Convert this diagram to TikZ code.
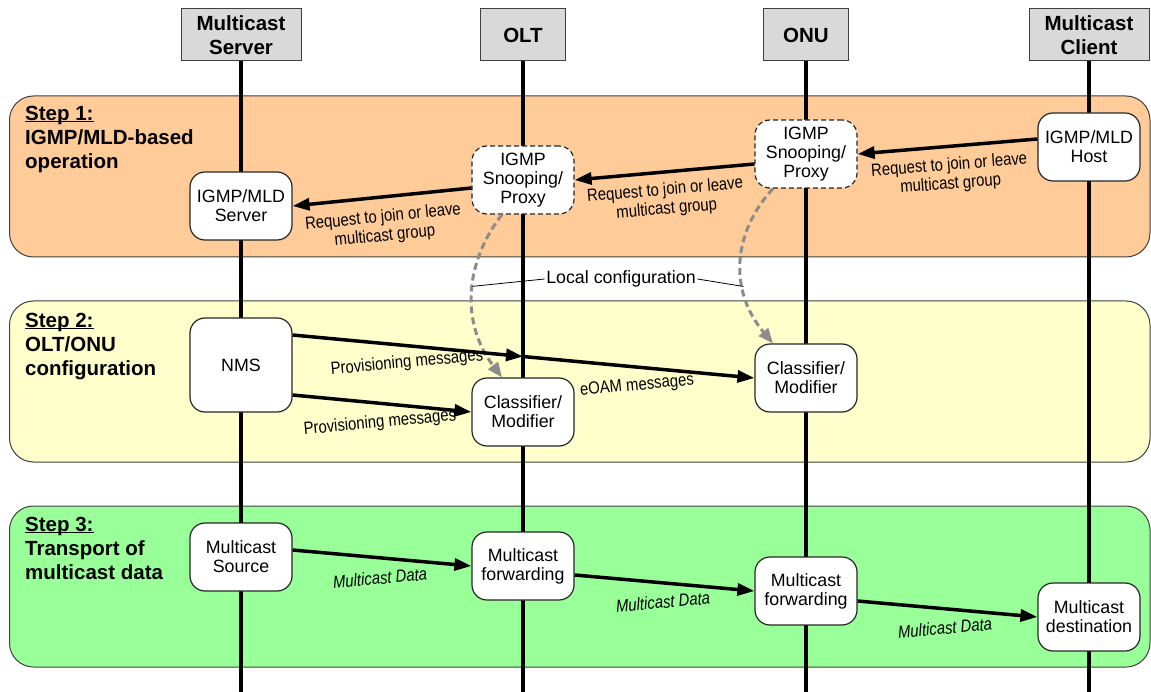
\documentclass[tikz,border=0pt]{standalone}
\usepackage{fontspec}
\setmainfont{Liberation Sans}
\newfontfamily\narrowfont[FakeStretch=0.85]{Liberation Sans}
\usetikzlibrary{arrows.meta}
\definecolor{bandorange}{HTML}{FFCC99}
\definecolor{bandyellow}{HTML}{FFFFCC}
\definecolor{bandgreen}{HTML}{99FF99}
\definecolor{hdrgray}{HTML}{D9D9D9}
\definecolor{edgegray}{HTML}{404040}
\definecolor{cfggray}{HTML}{8C8C8C}
\newcommand\stepul[1]{\setbox0\hbox{#1}\rlap{\rule[-1.8pt]{\wd0}{1.5pt}}#1}
\begin{document}
\begin{tikzpicture}[x=1pt,y=-1pt,
  hdr/.style={draw=edgegray, line width=1pt, fill=hdrgray, minimum height=52pt, inner sep=2pt, align=center, font=\fontsize{20.5}{24}\selectfont\bfseries},
  band/.style={draw=edgegray, line width=1pt, rounded corners=24pt},
  lifeline/.style={line width=4pt, black},
  box/.style={draw=black!85, line width=1.2pt, fill=white, rounded corners=15pt, minimum width=102pt, minimum height=68pt, inner sep=1pt, align=center, font=\fontsize{17.8}{18.8}\selectfont},
  dbox/.style={box, dash pattern=on 5pt off 3pt},
  msg/.style={line width=3.5pt, -{Triangle[length=17pt,width=12pt]}},
  cfg/.style={line width=3pt, cfggray, dash pattern=on 7pt off 4pt, -{Triangle[length=15pt,width=12pt]}},
  lbl/.style={font=\narrowfont\fontsize{17.5}{19}\selectfont, align=center, inner sep=0pt},
  dlbl/.style={font=\narrowfont\itshape\fontsize{17.5}{19}\selectfont, inner sep=0pt},
  steptxt/.style={anchor=north west, align=left, inner sep=0pt, font=\fontsize{20.5}{24}\selectfont\bfseries},
  leader/.style={line width=0.8pt, black}
]
\useasboundingbox (0,0) rectangle (1151,692);

% headers
\node[hdr, minimum width=120pt] (hServer) at (241,35) {Multicast\\Server};
\node[hdr, minimum width=85pt] (hOLT) at (523,35) {OLT};
\node[hdr, minimum width=85pt] (hONU) at (806,35) {ONU};
\node[hdr, minimum width=120pt] (hClient) at (1089,35) {Multicast\\Client};

% bands
\draw[band, fill=bandorange] (9.5,96) rectangle (1150,257);
\draw[band, fill=bandyellow] (9.5,301) rectangle (1150,462);
\draw[band, fill=bandgreen] (9.5,506) rectangle (1150,667);

\node[steptxt] (step1) at (25,106) {\stepul{Step 1:}\\IGMP/MLD-based\\operation};
\node[steptxt] (step2) at (25,313) {\stepul{Step 2:}\\OLT/ONU\\configuration};
\node[steptxt] (step3) at (25,517) {\stepul{Step 3:}\\Transport of\\multicast data};

% lifelines
\coordinate (endS) at (241,692);
\coordinate (endO) at (523,692);
\coordinate (endN) at (806,692);
\coordinate (endC) at (1089,692);
\draw[lifeline] (hServer.south) -- (endS);
\draw[lifeline] (hOLT.south) -- (endO);
\draw[lifeline] (hONU.south) -- (endN);
\draw[lifeline] (hClient.south) -- (endC);

% step 1 nodes
\node[box] (igmpServer) at (241,206) {IGMP/MLD\\Server};
\node[dbox] (snoopOLT) at (523,180) {IGMP\\Snooping/\\Proxy};
\node[dbox] (snoopONU) at (806,154) {IGMP\\Snooping/\\Proxy};
\node[box] (host) at (1089,147) {IGMP/MLD\\Host};

% step 2 nodes
\node[box, minimum height=94pt] (nms) at (241,365) {NMS};
\node[box] (clsOLT) at (523,412) {Classifier/\\Modifier};
\node[box] (clsONU) at (806,378) {Classifier/\\Modifier};

% step 3 nodes
\node[box] (src) at (241,557) {Multicast\\Source};
\node[box] (fwdOLT) at (523,566) {Multicast\\forwarding};
\node[box] (fwdONU) at (806,591) {Multicast\\forwarding};
\node[box] (dst) at (1089,617) {Multicast\\destination};

% step 1 arrows
\draw[msg] ([yshift=8pt]host.west) -- (snoopONU.east);
\draw[msg] ([yshift=-10pt]snoopONU.west) -- (snoopOLT.east);
\draw[msg] ([yshift=-8pt]snoopOLT.west) -- (igmpServer.east);
\node[lbl, rotate=4.5] (lblA) at (950,175) {Request to join or leave\\multicast group};
\node[lbl, rotate=5.0] (lblB) at (666,200) {Request to join or leave\\multicast group};
\node[lbl, rotate=5.7] (lblC) at (384,227) {Request to join or leave\\multicast group};

% local configuration
\draw[cfg] ([xshift=-21pt]snoopOLT.south) .. controls (465,262) and (460,322) .. ([xshift=-21pt]clsOLT.north) coordinate[pos=0.46] (lcL);
\draw[cfg] ([xshift=-33pt]snoopONU.south) .. controls (733,232) and (728,290) .. ([xshift=-33pt]clsONU.north) coordinate[pos=0.65] (lcR);
\node[font=\fontsize{17.8}{18.8}\selectfont, inner sep=1.5pt] (localcfg) at (621,279) {Local configuration};
\draw[leader] (localcfg.west) -- (lcL);
\draw[leader] (localcfg.east) -- (lcR);

% step 2 arrows
\coordinate (mid) at (523,356.5);
\draw[msg] ([yshift=30pt]nms.east) -- (mid);
\draw[msg] (mid) -- (clsONU.west);
\draw[msg] ([yshift=-30pt]nms.east) -- (clsOLT.west);
\node[lbl, rotate=5.3] (lblP1) at (407,363) {Provisioning messages};
\node[lbl, rotate=5.4] (lblP2) at (380,423) {Provisioning messages};
\node[lbl, rotate=5.3] (lblE) at (637,386) {eOAM messages};

% step 3 arrows
\draw[msg] ([yshift=7pt]src.east) -- (fwdOLT.west);
\draw[msg] ([yshift=-9pt]fwdOLT.east) -- (fwdONU.west);
\draw[msg] ([yshift=-10pt]fwdONU.east) -- (dst.west);
\node[dlbl, rotate=5.1] (lblD1) at (380,578) {Multicast Data};
\node[dlbl, rotate=5.0] (lblD2) at (663,602) {Multicast Data};
\node[dlbl, rotate=5.1] (lblD3) at (945,628) {Multicast Data};
\end{tikzpicture}
\end{document}
